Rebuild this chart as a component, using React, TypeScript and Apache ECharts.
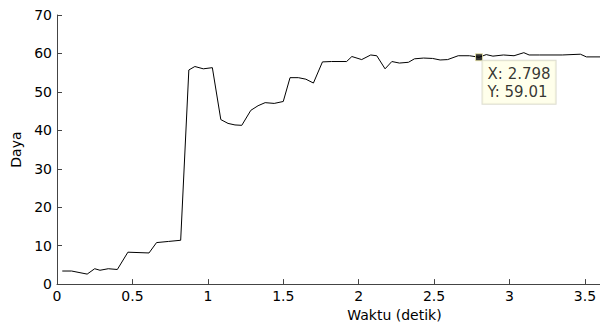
import React, { useEffect, useRef } from "react";
import * as echarts from "echarts";

// Power samples over time (seconds)
const timeSec: number[] = [
  0.035, 0.097, 0.2, 0.25, 0.285, 0.34, 0.4, 0.47, 0.61, 0.66, 0.74, 0.82,
  0.874, 0.914, 0.97, 1.03, 1.086, 1.134, 1.18, 1.225, 1.285, 1.333, 1.38,
  1.44, 1.5, 1.545, 1.6, 1.65, 1.7, 1.76, 1.82, 1.92, 1.955, 2.02, 2.08, 2.12,
  2.175, 2.22, 2.27, 2.33, 2.37, 2.43, 2.49, 2.54, 2.59, 2.66, 2.735, 2.798,
  2.846, 2.89, 2.96, 3.03, 3.095, 3.13, 3.2, 3.35, 3.47, 3.51, 3.6,
];
const power: number[] = [
  3.4, 3.4, 2.6, 4.0, 3.6, 4.0, 3.8, 8.3, 8.1, 10.8, 11.1, 11.4,
  55.7, 56.6, 56.0, 56.3, 42.8, 41.8, 41.4, 41.3, 45.2, 46.4, 47.2,
  47.0, 47.5, 53.7, 53.7, 53.3, 52.3, 57.8, 57.9, 57.9, 59.2, 58.4, 59.6, 59.4,
  56.0, 57.9, 57.5, 57.7, 58.6, 58.8, 58.7, 58.3, 58.4, 59.4, 59.4, 59.01,
  59.7, 59.3, 59.6, 59.4, 60.2, 59.6, 59.6, 59.6, 59.8, 59.1, 59.1,
];

// Highlighted data tip
const tipX = 2.798;
const tipY = 59.01;

const FONT = "DejaVu Sans";
const AXIS_COLOR = "#444";

export default function App() {
  const ref = useRef<HTMLDivElement>(null);

  useEffect(() => {
    if (!ref.current) return;
    const chart = echarts.init(ref.current, null, { renderer: "svg" });
    const lineData = timeSec.map((t, i) => [t, power[i]]);

    chart.setOption({
      animation: false,
      backgroundColor: "#fff",
      grid: { left: 57, right: 0, top: 15, bottom: 41, containLabel: false },
      xAxis: {
        type: "value",
        min: 0,
        max: 3.6,
        interval: 0.5,
        name: "Waktu (detik)",
        nameLocation: "middle",
        nameGap: 21,
        nameTextStyle: {
          fontFamily: FONT,
          fontSize: 14,
          color: "#000",
          padding: [0, 0, 0, 132],
        },
        axisLine: { show: true, onZero: false, lineStyle: { color: AXIS_COLOR, width: 1 } },
        axisTick: { show: true, inside: true, length: 5, lineStyle: { color: AXIS_COLOR } },
        axisLabel: {
          fontFamily: FONT,
          fontSize: 14,
          color: "#000",
          margin: 5,
          showMaxLabel: false,
        },
        splitLine: { show: false },
      },
      yAxis: {
        type: "value",
        min: 0,
        max: 70,
        interval: 10,
        name: "Daya",
        nameLocation: "middle",
        nameGap: 33,
        nameTextStyle: { fontFamily: FONT, fontSize: 14, color: "#000" },
        axisLine: { show: true, onZero: false, lineStyle: { color: AXIS_COLOR, width: 1 } },
        axisTick: { show: true, inside: true, length: 5, lineStyle: { color: AXIS_COLOR } },
        axisLabel: { fontFamily: FONT, fontSize: 14, color: "#000", margin: 5 },
        splitLine: { show: false },
      },
      series: [
        {
          type: "line",
          data: lineData,
          showSymbol: false,
          symbol: "none",
          lineStyle: { color: "#000", width: 1 },
          silent: true,
          z: 2,
        },
        {
          type: "scatter",
          data: [[tipX, tipY]],
          symbol: "rect",
          symbolSize: 7,
          itemStyle: { color: "#000", borderColor: "#eee8a8", borderWidth: 1 },
          silent: true,
          z: 3,
          label: {
            show: true,
            position: [7.5, 7.5],
            align: "left",
            verticalAlign: "top",
            formatter: () => `X: ${tipX}\nY: ${tipY.toFixed(2)}`,
            fontFamily: FONT,
            fontSize: 15,
            lineHeight: 18,
            color: "#000",
            backgroundColor: "#ffffe6",
            borderColor: "#d4d4c4",
            borderWidth: 1,
            padding: [4, 5, 3, 5],
          },
        },
      ],
    });

    return () => chart.dispose();
  }, []);

  return (
    <div
      ref={ref}
      style={{ position: "fixed", left: 0, top: 0, width: 600, height: 327 }}
    />
  );
}
